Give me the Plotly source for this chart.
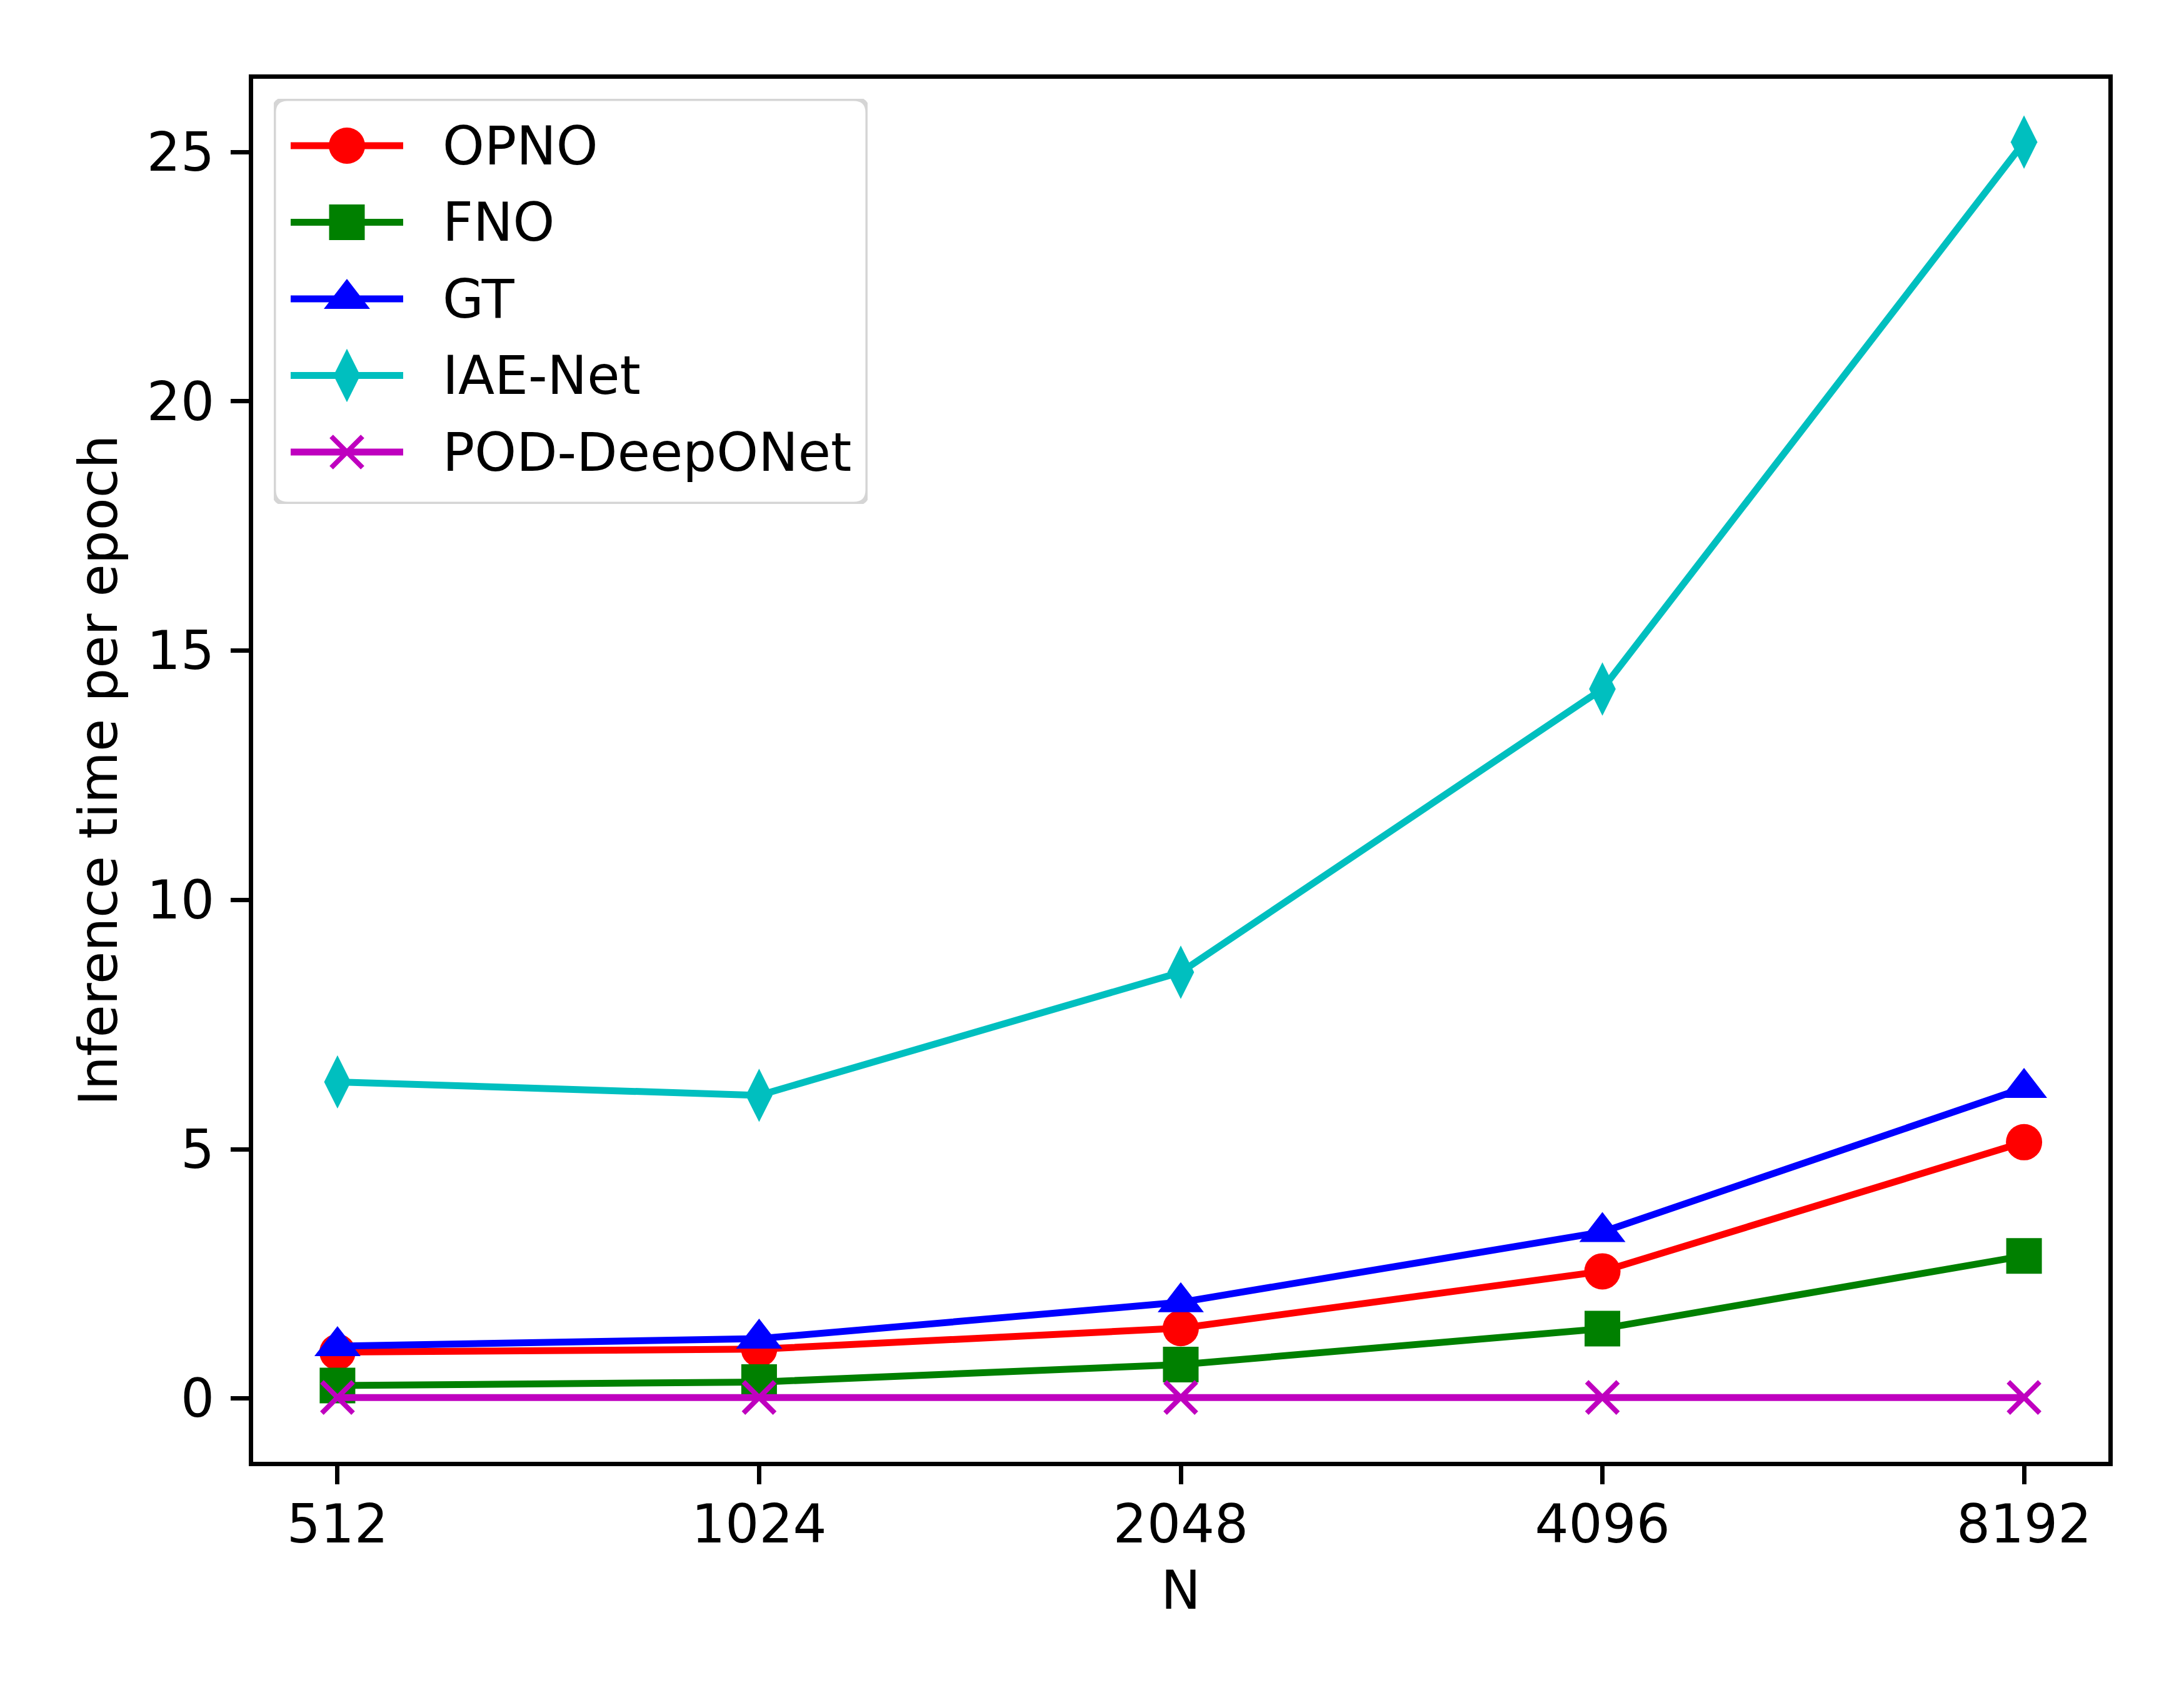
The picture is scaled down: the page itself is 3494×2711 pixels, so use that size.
import plotly.graph_objs as go

# x categories (problem size N)
n_labels = ["512", "1024", "2048", "4096", "8192"]

# inference time per epoch
opno = [0.93, 0.99, 1.41, 2.55, 5.14]
fno = [0.26, 0.33, 0.68, 1.40, 2.86]
gt = [1.05, 1.20, 1.93, 3.34, 6.23]
iae_net = [6.35, 6.08, 8.55, 14.23, 25.20]
pod_deeponet = [0.02, 0.02, 0.02, 0.02, 0.02]

W, H = 3494, 2711
FONT = "DejaVu Sans"
FS = 85
MARGIN = dict(l=397, r=129, t=118, b=381)

series = [
    ("OPNO", opno, "#ff0000", dict(symbol="circle", size=58)),
    ("FNO", fno, "#008000", dict(symbol="square", size=57)),
    ("GT", gt, "#0000ff", dict(symbol="triangle-up", size=64)),
    ("IAE-Net", iae_net, "#00bfbf", dict(symbol="diamond-tall", size=61)),
    ("POD-DeepONet", pod_deeponet, "#bf00bf", dict(symbol="x-thin", size=50)),
]


def make_marker(color, mk):
    marker = dict(color=color, **mk)
    marker["line"] = dict(color=color, width=8 if mk["symbol"] == "x-thin" else 0)
    return marker


fig = go.Figure()
for name, vals, color, mk in series:
    fig.add_trace(go.Scatter(
        x=list(range(len(n_labels))),
        y=vals,
        mode="lines+markers",
        name=name,
        line=dict(color=color, width=11),
        marker=make_marker(color, mk),
        showlegend=False,
    ))

# legend drawn on its own small axes so the markers keep full size
# (box geometry in pixels of the figure)
plot_w = W - MARGIN["l"] - MARGIN["r"]
plot_h = H - MARGIN["t"] - MARGIN["b"]
box_l, box_r, box_t, box_b = 430, 1380, 150, 798
sample_l, sample_r = 457, 637          # legend line sample, px
row0, row_step = 225, 122.5            # legend row centres, px
text_x = 698

unit_x = sample_r - sample_l
leg_xrange = [(box_l - sample_l) / unit_x, (box_r - sample_l) / unit_x]
leg_yrange = [(box_b - row0) / row_step, (box_t - row0) / row_step]
leg_xdomain = [(box_l - MARGIN["l"]) / plot_w, (box_r - MARGIN["l"]) / plot_w]
leg_ydomain = [1 - (box_b - MARGIN["t"]) / plot_h, 1 - (box_t - MARGIN["t"]) / plot_h]

for i, (name, vals, color, mk) in enumerate(series):
    fig.add_trace(go.Scatter(
        x=[0, 1], y=[i, i], mode="lines",
        line=dict(color=color, width=11),
        xaxis="x2", yaxis="y2", showlegend=False, hoverinfo="skip",
    ))
    fig.add_trace(go.Scatter(
        x=[0.5], y=[i], mode="markers",
        marker=make_marker(color, mk),
        xaxis="x2", yaxis="y2", showlegend=False, hoverinfo="skip",
    ))
    fig.add_annotation(
        x=(text_x - sample_l) / unit_x, y=i, xref="x2", yref="y2",
        text=name, showarrow=False, xanchor="left", yanchor="middle",
        font=dict(family=FONT, size=FS, color="black"),
    )

# rounded legend frame, in legend-axes units
rx = 22 / unit_x
ry = 22 / row_step
x0, x1 = leg_xrange
y_top, y_bot = leg_yrange[1], leg_yrange[0]
frame_path = (
    f"M {x0 + rx},{y_top} L {x1 - rx},{y_top} Q {x1},{y_top} {x1},{y_top + ry} "
    f"L {x1},{y_bot - ry} Q {x1},{y_bot} {x1 - rx},{y_bot} "
    f"L {x0 + rx},{y_bot} Q {x0},{y_bot} {x0},{y_bot - ry} "
    f"L {x0},{y_top + ry} Q {x0},{y_top} {x0 + rx},{y_top} Z"
)
fig.add_shape(
    type="path", path=frame_path, xref="x2", yref="y2",
    line=dict(color="#d5d5d5", width=7),
    fillcolor="rgba(255,255,255,0.8)", layer="below",
)

axis_common = dict(
    showgrid=False,
    zeroline=False,
    showline=True,
    mirror=True,
    linecolor="black",
    linewidth=7,
    ticks="outside",
    ticklen=29,
    tickwidth=7,
    tickcolor="black",
    tickfont=dict(family=FONT, size=FS, color="black"),
)

hidden_axis = dict(
    showgrid=False, zeroline=False, showline=False,
    showticklabels=False, ticks="", fixedrange=True,
)

fig.update_layout(
    width=W,
    height=H,
    margin=MARGIN,
    paper_bgcolor="white",
    plot_bgcolor="white",
    font=dict(family=FONT, size=FS, color="black"),
    xaxis=dict(
        axis_common,
        range=[-0.2, 4.2],
        tickmode="array",
        tickvals=list(range(len(n_labels))),
        ticktext=n_labels,
        ticklabelstandoff=-9,
        title=dict(text="N", font=dict(family=FONT, size=FS), standoff=30),
    ),
    yaxis=dict(
        axis_common,
        range=[-1.27, 26.47],
        tickvals=[0, 5, 10, 15, 20, 25],
        ticklabelstandoff=9,
        title=dict(text="Inference time per epoch", font=dict(family=FONT, size=FS), standoff=22),
    ),
    xaxis2=dict(hidden_axis, domain=leg_xdomain, range=leg_xrange, anchor="y2"),
    yaxis2=dict(hidden_axis, domain=leg_ydomain, range=leg_yrange, anchor="x2"),
    showlegend=False,
)

fig.write_html("out.html")
